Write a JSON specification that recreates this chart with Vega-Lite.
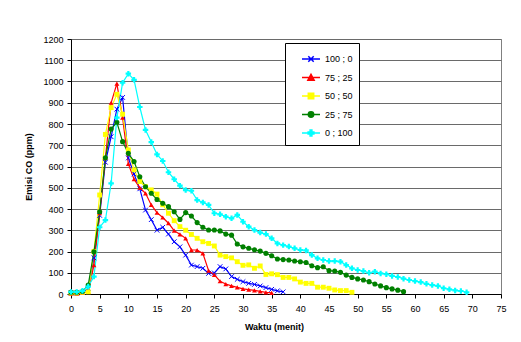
{
"$schema":"https://vega.github.io/schema/vega-lite/v6.json",
"autosize":{"type":"none"},
"padding":{"left":71,"top":39,"right":20,"bottom":48},
"width":430,"height":255,
"background":"white",
"config":{"font":"Liberation Sans","view":{"stroke":"#808080","strokeWidth":1}},
"data":{"values":[
{"s":"100 ; 0","t":0,"v":5},{"s":"100 ; 0","t":1,"v":5},{"s":"100 ; 0","t":2,"v":8},{"s":"100 ; 0","t":3,"v":25},{"s":"100 ; 0","t":4,"v":170},{"s":"100 ; 0","t":5,"v":370},{"s":"100 ; 0","t":6,"v":620},{"s":"100 ; 0","t":7,"v":740},{"s":"100 ; 0","t":8,"v":870},{"s":"100 ; 0","t":9,"v":925},{"s":"100 ; 0","t":10,"v":640},{"s":"100 ; 0","t":11,"v":565},{"s":"100 ; 0","t":12,"v":495},{"s":"100 ; 0","t":13,"v":395},{"s":"100 ; 0","t":14,"v":350},{"s":"100 ; 0","t":15,"v":300},{"s":"100 ; 0","t":16,"v":314},{"s":"100 ; 0","t":17,"v":282},{"s":"100 ; 0","t":18,"v":246},{"s":"100 ; 0","t":19,"v":222},{"s":"100 ; 0","t":20,"v":183},{"s":"100 ; 0","t":21,"v":136},{"s":"100 ; 0","t":22,"v":129},{"s":"100 ; 0","t":23,"v":121},{"s":"100 ; 0","t":24,"v":97},{"s":"100 ; 0","t":25,"v":99},{"s":"100 ; 0","t":26,"v":129},{"s":"100 ; 0","t":27,"v":118},{"s":"100 ; 0","t":28,"v":82},{"s":"100 ; 0","t":29,"v":69},{"s":"100 ; 0","t":30,"v":58},{"s":"100 ; 0","t":31,"v":50},{"s":"100 ; 0","t":32,"v":45},{"s":"100 ; 0","t":33,"v":38},{"s":"100 ; 0","t":34,"v":30},{"s":"100 ; 0","t":35,"v":22},{"s":"100 ; 0","t":36,"v":15},{"s":"100 ; 0","t":37,"v":10},
{"s":"75 ; 25","t":0,"v":2},{"s":"75 ; 25","t":1,"v":2},{"s":"75 ; 25","t":2,"v":5},{"s":"75 ; 25","t":3,"v":10},{"s":"75 ; 25","t":4,"v":136},{"s":"75 ; 25","t":5,"v":380},{"s":"75 ; 25","t":6,"v":640},{"s":"75 ; 25","t":7,"v":900},{"s":"75 ; 25","t":8,"v":990},{"s":"75 ; 25","t":9,"v":830},{"s":"75 ; 25","t":10,"v":612},{"s":"75 ; 25","t":11,"v":540},{"s":"75 ; 25","t":12,"v":500},{"s":"75 ; 25","t":13,"v":474},{"s":"75 ; 25","t":14,"v":419},{"s":"75 ; 25","t":15,"v":383},{"s":"75 ; 25","t":16,"v":360},{"s":"75 ; 25","t":17,"v":333},{"s":"75 ; 25","t":18,"v":298},{"s":"75 ; 25","t":19,"v":281},{"s":"75 ; 25","t":20,"v":262},{"s":"75 ; 25","t":21,"v":207},{"s":"75 ; 25","t":22,"v":207},{"s":"75 ; 25","t":23,"v":191},{"s":"75 ; 25","t":24,"v":110},{"s":"75 ; 25","t":25,"v":90},{"s":"75 ; 25","t":26,"v":60},{"s":"75 ; 25","t":27,"v":47},{"s":"75 ; 25","t":28,"v":38},{"s":"75 ; 25","t":29,"v":31},{"s":"75 ; 25","t":30,"v":24},{"s":"75 ; 25","t":31,"v":21},{"s":"75 ; 25","t":32,"v":17},{"s":"75 ; 25","t":33,"v":12},{"s":"75 ; 25","t":34,"v":8},{"s":"75 ; 25","t":35,"v":5},
{"s":"50 ; 50","t":0,"v":5},{"s":"50 ; 50","t":1,"v":5},{"s":"50 ; 50","t":2,"v":8},{"s":"50 ; 50","t":3,"v":10},{"s":"50 ; 50","t":4,"v":200},{"s":"50 ; 50","t":5,"v":466},{"s":"50 ; 50","t":6,"v":751},{"s":"50 ; 50","t":7,"v":877},{"s":"50 ; 50","t":8,"v":940},{"s":"50 ; 50","t":9,"v":846},{"s":"50 ; 50","t":10,"v":678},{"s":"50 ; 50","t":11,"v":584},{"s":"50 ; 50","t":12,"v":529},{"s":"50 ; 50","t":13,"v":505},{"s":"50 ; 50","t":14,"v":490},{"s":"50 ; 50","t":15,"v":470},{"s":"50 ; 50","t":16,"v":420},{"s":"50 ; 50","t":17,"v":380},{"s":"50 ; 50","t":18,"v":345},{"s":"50 ; 50","t":19,"v":317},{"s":"50 ; 50","t":20,"v":300},{"s":"50 ; 50","t":21,"v":280},{"s":"50 ; 50","t":22,"v":262},{"s":"50 ; 50","t":23,"v":246},{"s":"50 ; 50","t":24,"v":238},{"s":"50 ; 50","t":25,"v":226},{"s":"50 ; 50","t":26,"v":183},{"s":"50 ; 50","t":27,"v":176},{"s":"50 ; 50","t":28,"v":170},{"s":"50 ; 50","t":29,"v":152},{"s":"50 ; 50","t":30,"v":135},{"s":"50 ; 50","t":31,"v":137},{"s":"50 ; 50","t":32,"v":121},{"s":"50 ; 50","t":33,"v":132},{"s":"50 ; 50","t":34,"v":92},{"s":"50 ; 50","t":35,"v":95},{"s":"50 ; 50","t":36,"v":91},{"s":"50 ; 50","t":37,"v":78},{"s":"50 ; 50","t":38,"v":78},{"s":"50 ; 50","t":39,"v":71},{"s":"50 ; 50","t":40,"v":56},{"s":"50 ; 50","t":41,"v":50},{"s":"50 ; 50","t":42,"v":50},{"s":"50 ; 50","t":43,"v":32},{"s":"50 ; 50","t":44,"v":32},{"s":"50 ; 50","t":45,"v":27},{"s":"50 ; 50","t":46,"v":19},{"s":"50 ; 50","t":47,"v":16},{"s":"50 ; 50","t":48,"v":16},{"s":"50 ; 50","t":49,"v":8},
{"s":"25 ; 75","t":0,"v":8},{"s":"25 ; 75","t":1,"v":8},{"s":"25 ; 75","t":2,"v":12},{"s":"25 ; 75","t":3,"v":42},{"s":"25 ; 75","t":4,"v":199},{"s":"25 ; 75","t":5,"v":387},{"s":"25 ; 75","t":6,"v":641},{"s":"25 ; 75","t":7,"v":776},{"s":"25 ; 75","t":8,"v":808},{"s":"25 ; 75","t":9,"v":717},{"s":"25 ; 75","t":10,"v":662},{"s":"25 ; 75","t":11,"v":623},{"s":"25 ; 75","t":12,"v":552},{"s":"25 ; 75","t":13,"v":505},{"s":"25 ; 75","t":14,"v":474},{"s":"25 ; 75","t":15,"v":445},{"s":"25 ; 75","t":16,"v":427},{"s":"25 ; 75","t":17,"v":411},{"s":"25 ; 75","t":18,"v":387},{"s":"25 ; 75","t":19,"v":351},{"s":"25 ; 75","t":20,"v":383},{"s":"25 ; 75","t":21,"v":367},{"s":"25 ; 75","t":22,"v":336},{"s":"25 ; 75","t":23,"v":314},{"s":"25 ; 75","t":24,"v":301},{"s":"25 ; 75","t":25,"v":301},{"s":"25 ; 75","t":26,"v":297},{"s":"25 ; 75","t":27,"v":282},{"s":"25 ; 75","t":28,"v":277},{"s":"25 ; 75","t":29,"v":235},{"s":"25 ; 75","t":30,"v":222},{"s":"25 ; 75","t":31,"v":215},{"s":"25 ; 75","t":32,"v":208},{"s":"25 ; 75","t":33,"v":202},{"s":"25 ; 75","t":34,"v":191},{"s":"25 ; 75","t":35,"v":180},{"s":"25 ; 75","t":36,"v":165},{"s":"25 ; 75","t":37,"v":162},{"s":"25 ; 75","t":38,"v":160},{"s":"25 ; 75","t":39,"v":155},{"s":"25 ; 75","t":40,"v":152},{"s":"25 ; 75","t":41,"v":148},{"s":"25 ; 75","t":42,"v":133},{"s":"25 ; 75","t":43,"v":124},{"s":"25 ; 75","t":44,"v":128},{"s":"25 ; 75","t":45,"v":110},{"s":"25 ; 75","t":46,"v":108},{"s":"25 ; 75","t":47,"v":102},{"s":"25 ; 75","t":48,"v":89},{"s":"25 ; 75","t":49,"v":78},{"s":"25 ; 75","t":50,"v":71},{"s":"25 ; 75","t":51,"v":66},{"s":"25 ; 75","t":52,"v":58},{"s":"25 ; 75","t":53,"v":47},{"s":"25 ; 75","t":54,"v":38},{"s":"25 ; 75","t":55,"v":30},{"s":"25 ; 75","t":56,"v":24},{"s":"25 ; 75","t":57,"v":18},{"s":"25 ; 75","t":58,"v":11},
{"s":"0 ; 100","t":0,"v":10},{"s":"0 ; 100","t":1,"v":10},{"s":"0 ; 100","t":2,"v":15},{"s":"0 ; 100","t":3,"v":35},{"s":"0 ; 100","t":4,"v":82},{"s":"0 ; 100","t":5,"v":314},{"s":"0 ; 100","t":6,"v":348},{"s":"0 ; 100","t":7,"v":521},{"s":"0 ; 100","t":8,"v":830},{"s":"0 ; 100","t":9,"v":994},{"s":"0 ; 100","t":10,"v":1037},{"s":"0 ; 100","t":11,"v":1008},{"s":"0 ; 100","t":12,"v":880},{"s":"0 ; 100","t":13,"v":772},{"s":"0 ; 100","t":14,"v":715},{"s":"0 ; 100","t":15,"v":657},{"s":"0 ; 100","t":16,"v":626},{"s":"0 ; 100","t":17,"v":573},{"s":"0 ; 100","t":18,"v":540},{"s":"0 ; 100","t":19,"v":510},{"s":"0 ; 100","t":20,"v":489},{"s":"0 ; 100","t":21,"v":486},{"s":"0 ; 100","t":22,"v":442},{"s":"0 ; 100","t":23,"v":431},{"s":"0 ; 100","t":24,"v":419},{"s":"0 ; 100","t":25,"v":380},{"s":"0 ; 100","t":26,"v":375},{"s":"0 ; 100","t":27,"v":364},{"s":"0 ; 100","t":28,"v":356},{"s":"0 ; 100","t":29,"v":372},{"s":"0 ; 100","t":30,"v":340},{"s":"0 ; 100","t":31,"v":317},{"s":"0 ; 100","t":32,"v":301},{"s":"0 ; 100","t":33,"v":289},{"s":"0 ; 100","t":34,"v":282},{"s":"0 ; 100","t":35,"v":262},{"s":"0 ; 100","t":36,"v":238},{"s":"0 ; 100","t":37,"v":230},{"s":"0 ; 100","t":38,"v":223},{"s":"0 ; 100","t":39,"v":215},{"s":"0 ; 100","t":40,"v":207},{"s":"0 ; 100","t":41,"v":205},{"s":"0 ; 100","t":42,"v":183},{"s":"0 ; 100","t":43,"v":168},{"s":"0 ; 100","t":44,"v":160},{"s":"0 ; 100","t":45,"v":155},{"s":"0 ; 100","t":46,"v":155},{"s":"0 ; 100","t":47,"v":152},{"s":"0 ; 100","t":48,"v":136},{"s":"0 ; 100","t":49,"v":121},{"s":"0 ; 100","t":50,"v":113},{"s":"0 ; 100","t":51,"v":108},{"s":"0 ; 100","t":52,"v":100},{"s":"0 ; 100","t":53,"v":105},{"s":"0 ; 100","t":54,"v":97},{"s":"0 ; 100","t":55,"v":93},{"s":"0 ; 100","t":56,"v":85},{"s":"0 ; 100","t":57,"v":80},{"s":"0 ; 100","t":58,"v":72},{"s":"0 ; 100","t":59,"v":66},{"s":"0 ; 100","t":60,"v":61},{"s":"0 ; 100","t":61,"v":56},{"s":"0 ; 100","t":62,"v":48},{"s":"0 ; 100","t":63,"v":42},{"s":"0 ; 100","t":64,"v":38},{"s":"0 ; 100","t":65,"v":27},{"s":"0 ; 100","t":66,"v":22},{"s":"0 ; 100","t":67,"v":17},{"s":"0 ; 100","t":68,"v":14},{"s":"0 ; 100","t":69,"v":8}
]},
"encoding":{
"x":{"field":"t","type":"quantitative","scale":{"domain":[0,75],"nice":false},
 "axis":{"values":[0,5,10,15,20,25,30,35,40,45,50,55,60,65,70,75],"grid":false,"title":"Waktu (menit)","titleFontSize":9,"titleFontWeight":"bold","titleColor":"#000","titleX":203,"titleY":32,"titleBaseline":"middle","labelFontSize":9,"labelColor":"#000","labelPadding":6,"domainColor":"#000","tickColor":"#000","tickSize":4,"labelFlush":false}},
"y":{"field":"v","type":"quantitative","scale":{"domain":[0,1200],"nice":false},
 "axis":{"values":[0,100,200,300,400,500,600,700,800,900,1000,1100,1200],"format":"d","grid":true,"gridColor":"#6a6a6a","gridWidth":1,"title":"Emisi CO (ppm)","titleFontSize":9,"titleFontWeight":"bold","titleColor":"#000","titleAngle":270,"titleX":-43,"titleY":127.5,"titleBaseline":"middle","titleAlign":"center","labelFontSize":9,"labelColor":"#000","labelPadding":4,"domainColor":"#000","tickColor":"#000","tickSize":4}}
},
"layer":[
{"mark":{"type":"line","strokeWidth":1.2},
 "encoding":{"color":{"field":"s","type":"nominal","sort":["100 ; 0","75 ; 25","50 ; 50","25 ; 75","0 ; 100"],
 "scale":{"domain":["100 ; 0","75 ; 25","50 ; 50","25 ; 75","0 ; 100"],"range":["#0000ff","#ff0000","#ffff00","#008000","#00ffff"]},
 "legend":{"title":null,"orient":"none","legendX":214,"legendY":4,"padding":6,"strokeColor":"#000","fillColor":"#fff","labelFontSize":9,"labelColor":"#000","labelOffset":4,"symbolSize":324,"symbolOffset":10,"rowPadding":2.5,
  "encode":{"symbols":{"update":{
   "shape":{"signal":"datum.value === '100 ; 0' ? 'M-1,0H1M-0.3,-0.3L0.3,0.3M-0.3,0.3L0.3,-0.3' : datum.value === '75 ; 25' ? 'M-1,0H1M0,-0.35L0.35,0.3L-0.35,0.3Z' : datum.value === '50 ; 50' ? 'M-1,0H1M-0.3,-0.3H0.3V0.3H-0.3Z' : datum.value === '25 ; 75' ? 'M-1,0H1M0.3,0A0.3,0.3 0 1,1 -0.3,0A0.3,0.3 0 1,1 0.3,0Z' : 'M-1,0H1M-0.1,-0.32H0.1V-0.1H0.32V0.1H0.1V0.32H-0.1V0.1H-0.32V-0.1H-0.1Z'"},
   "fill":{"signal":"scale('color', datum.value)"},
   "stroke":{"signal":"scale('color', datum.value)"},
   "strokeWidth":{"value":1.5},
   "opacity":{"value":1}}}}}}}},
{"transform":[{"filter":"datum.s === '100 ; 0'"}],"mark":{"type":"point","shape":"M-1,-1L1,1M-1,1L1,-1","filled":false,"size":22,"strokeWidth":1,"color":"#0000ff","opacity":1}},
{"transform":[{"filter":"datum.s === '75 ; 25'"}],"mark":{"type":"point","shape":"triangle-up","filled":true,"size":24,"color":"#ff0000","opacity":1}},
{"transform":[{"filter":"datum.s === '50 ; 50'"}],"mark":{"type":"point","shape":"square","filled":true,"size":24,"color":"#ffff00","opacity":1}},
{"transform":[{"filter":"datum.s === '25 ; 75'"}],"mark":{"type":"point","shape":"circle","filled":true,"size":26,"color":"#008000","opacity":1}},
{"transform":[{"filter":"datum.s === '0 ; 100'"}],"mark":{"type":"point","shape":"cross","filled":true,"size":30,"color":"#00ffff","opacity":1}}
]
}
